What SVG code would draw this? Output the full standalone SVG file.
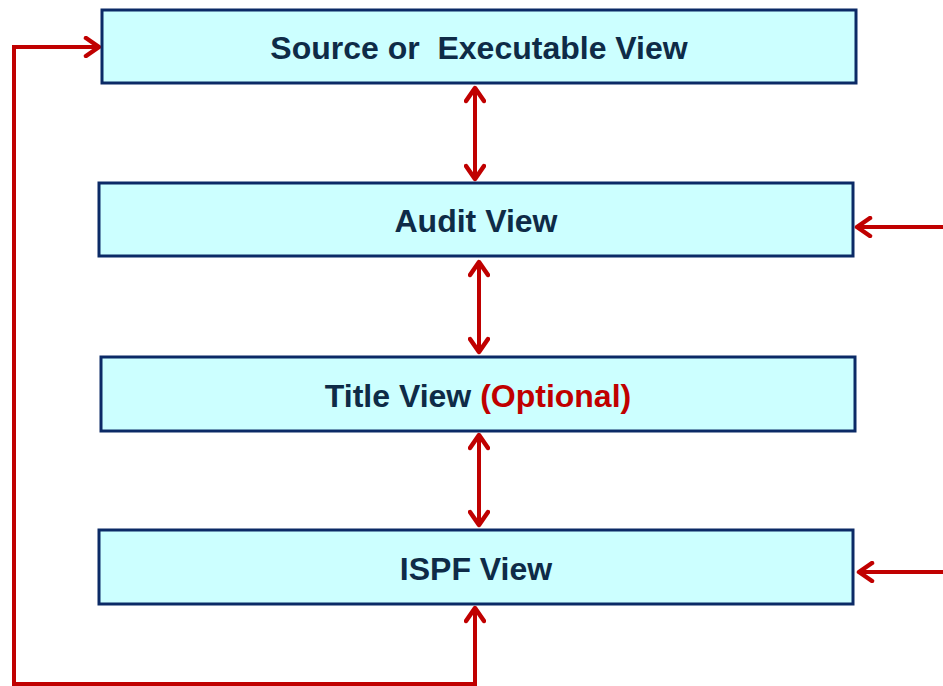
<svg xmlns="http://www.w3.org/2000/svg" width="943" height="686" viewBox="0 0 943 686">
  <style>
    .box { fill: #ccffff; stroke: #0b2a66; stroke-width: 3; }
    .lbl { font-family: "Liberation Sans", Arial, sans-serif; font-weight: bold; font-size: 32px; fill: #0e2b47; text-anchor: middle; white-space: pre; }
    .opt { fill: #c00000; }
    .wire { fill: none; stroke: #c00000; stroke-width: 4; }
  </style>
  <defs>
    <marker id="head" viewBox="0 0 22 22" refX="19" refY="11" markerWidth="22" markerHeight="22" markerUnits="userSpaceOnUse" orient="auto-start-reverse">
      <polyline points="6,2 19,11 6,20" fill="none" stroke="#c00000" stroke-width="4.5" stroke-linecap="round" stroke-linejoin="round"/>
    </marker>
  </defs>

  <g id="connectors">
    <!-- loop from ISPF View back to the top view -->
    <path class="wire" d="M475,608 V684 H14 V47 H99" marker-start="url(#head)" marker-end="url(#head)"/>
    <!-- two-way links between stacked views -->
    <line class="wire" x1="475" y1="88" x2="475" y2="179" marker-start="url(#head)" marker-end="url(#head)"/>
    <line class="wire" x1="479" y1="262" x2="479" y2="352" marker-start="url(#head)" marker-end="url(#head)"/>
    <line class="wire" x1="479" y1="435" x2="479" y2="525" marker-start="url(#head)" marker-end="url(#head)"/>
    <!-- inputs from the right -->
    <line class="wire" x1="943" y1="227" x2="857" y2="227" marker-end="url(#head)"/>
    <line class="wire" x1="943" y1="572" x2="859" y2="572" marker-end="url(#head)"/>
  </g>

  <g id="source-view">
    <rect class="box" x="102" y="10" width="754" height="73"/>
    <text class="lbl" x="479" y="59" xml:space="preserve">Source or  Executable View</text>
  </g>
  <g id="audit-view">
    <rect class="box" x="99" y="183" width="754" height="73"/>
    <text class="lbl" x="476" y="232">Audit View</text>
  </g>
  <g id="title-view">
    <rect class="box" x="101" y="357" width="754" height="74"/>
    <text class="lbl" x="478" y="407">Title View <tspan class="opt">(Optional)</tspan></text>
  </g>
  <g id="ispf-view">
    <rect class="box" x="99" y="530" width="754" height="74"/>
    <text class="lbl" x="476" y="580">ISPF View</text>
  </g>
</svg>
